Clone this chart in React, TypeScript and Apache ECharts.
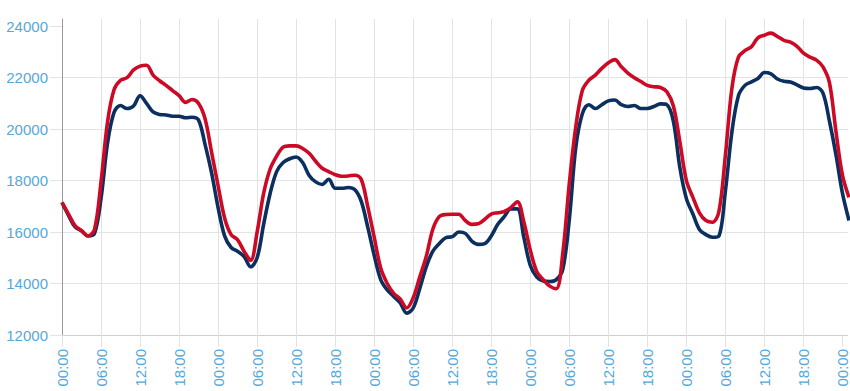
import React, { useEffect, useRef } from "react";
import * as echarts from "echarts";

// Hourly values, hour 0 .. 121 (five days + a little)
const redValues: number[] = [
  17150, 16700, 16250, 16050, 15850, 16100, 17950, 20280, 21530, 21900,
  22000, 22300, 22450, 22480, 22100, 21880, 21700, 21500, 21300, 21040,
  21150, 21000, 20400, 19100, 17800, 16550, 15900, 15700, 15250, 14900,
  16000, 17500, 18450, 18950, 19300, 19350, 19350, 19250, 19060, 18750,
  18480, 18350, 18230, 18170, 18180, 18210, 18050, 17000, 15800, 14600,
  14000, 13620, 13400, 13050, 13450, 14250, 15050, 16100, 16600, 16680,
  16690, 16690, 16450, 16300, 16320, 16500, 16700, 16750, 16800, 16950,
  17180, 16400, 15300, 14460, 14150, 13900, 13800, 15200, 17900, 20100,
  21500, 21900, 22100, 22360, 22580, 22700, 22420, 22180, 22000, 21850,
  21700, 21650, 21620, 21450, 20900, 19500, 18000, 17350, 16750, 16450,
  16380, 16800, 19000, 21600, 22800, 23050, 23200, 23550, 23650, 23730,
  23600, 23450, 23380, 23220, 22950, 22800, 22680, 22420, 21800, 19900,
  18200, 17350,
];

const blueValues: number[] = [
  17150, 16650, 16200, 16050, 15850, 15950, 17300, 19450, 20650, 20920,
  20800, 20900, 21300, 21000, 20670, 20570, 20550, 20500, 20500, 20440,
  20460, 20350, 19400, 18300, 16950, 15850, 15400, 15250, 15050, 14650,
  15000, 16300, 17500, 18350, 18700, 18850, 18920, 18700, 18200, 17950,
  17850, 18050, 17700, 17700, 17730, 17650, 17200, 16200, 15100, 14150,
  13750, 13500, 13250, 12850, 13050, 13800, 14650, 15250, 15550, 15780,
  15820, 16000, 15950, 15650, 15520, 15550, 15850, 16300, 16600, 16900,
  16900, 15800, 14700, 14250, 14100, 14080, 14150, 14550, 16500, 19300,
  20600, 20950, 20800, 20950, 21100, 21130, 20950, 20880, 20920, 20800,
  20800, 20880, 20980, 20950, 20300, 18500, 17300, 16700, 16100, 15900,
  15800, 15850, 17600, 19900, 21300, 21700, 21840, 21970, 22200, 22150,
  21950, 21860, 21830, 21720, 21600, 21580, 21620, 21400, 20300, 19000,
  17500, 16450,
];

const xTickHours: number[] = [
  0, 6, 12, 18, 24, 30, 36, 42, 48, 54, 60, 66, 72, 78, 84, 90, 96, 102, 108, 114, 120,
];
const yTicks: number[] = [12000, 14000, 16000, 18000, 20000, 22000, 24000];

const RED = "#cc0a26";
const NAVY = "#0b2f5e";
const LABEL = "#55a8d8";
const GRID = "#e3e3e3";

function fmtHour(v: number): string {
  const h = Math.round(v) % 24;
  return (h < 10 ? "0" + h : "" + h) + ":00";
}

export default function App() {
  const ref = useRef<HTMLDivElement>(null);
  useEffect(() => {
    if (!ref.current) return;
    const chart = echarts.init(ref.current, undefined, { renderer: "svg" });
    chart.setOption({
      animation: false,
      grid: { left: 62, right: 0, top: 19, bottom: 56, containLabel: false },
      xAxis: {
        type: "value",
        min: 0,
        max: 120.8,
        interval: 6,
        axisLine: { show: true, lineStyle: { color: "#cfcfcf", width: 1 } },
        axisTick: {
          show: true,
          length: 12,
          lineStyle: { color: GRID },
          customValues: xTickHours,
        },
        axisLabel: {
          rotate: 90,
          margin: 14,
          color: LABEL,
          fontSize: 15,
          fontFamily: "Liberation Sans, Arial, sans-serif",
          customValues: xTickHours,
          formatter: (v: number) => fmtHour(v),
        },
        splitLine: {
          show: true,
          showMaxLine: false,
          lineStyle: { color: GRID, width: 1 },
        },
      },
      yAxis: {
        type: "value",
        min: 12000,
        max: 24280,
        interval: 2000,
        axisLine: { show: true, lineStyle: { color: "#9a9a9a", width: 1 } },
        axisTick: {
          show: true,
          length: 12,
          lineStyle: { color: GRID },
          customValues: yTicks,
        },
        axisLabel: {
          margin: 14,
          color: LABEL,
          fontSize: 15,
          fontFamily: "Liberation Sans, Arial, sans-serif",
          customValues: yTicks,
          formatter: (v: number) => String(v),
        },
        splitLine: {
          show: true,
          showMaxLine: false,
          lineStyle: { color: GRID, width: 1 },
        },
      },
      series: [
        {
          name: "blue",
          type: "line",
          smooth: 0.35,
          symbol: "none",
          clip: true,
          lineStyle: { color: NAVY, width: 3.6 },
          data: blueValues.map((v, i) => [i, v]),
        },
        {
          name: "red",
          type: "line",
          smooth: 0.35,
          symbol: "none",
          clip: true,
          lineStyle: { color: RED, width: 3.6 },
          data: redValues.map((v, i) => [i, v]),
        },
      ],
    });
    return () => chart.dispose();
  }, []);
  return (
    <div
      ref={ref}
      style={{ position: "absolute", left: 0, top: 0, width: 850, height: 391, background: "#fff" }}
    />
  );
}
